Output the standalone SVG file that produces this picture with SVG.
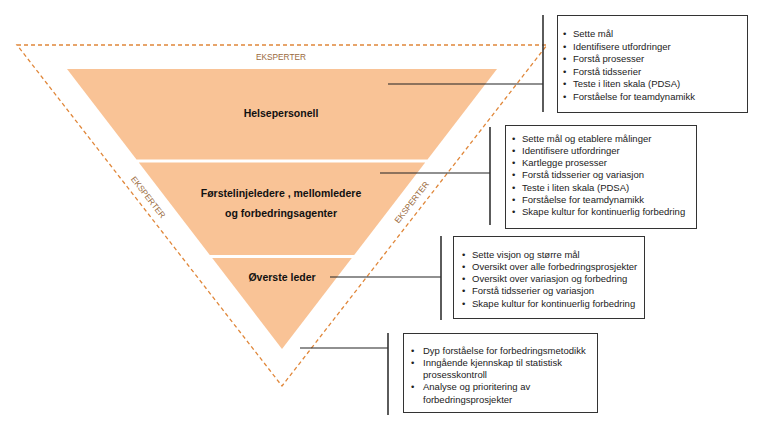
<svg xmlns="http://www.w3.org/2000/svg" width="768" height="432" viewBox="0 0 768 432">
<style>
.band{fill:#F9C396;}
.dash{fill:none;stroke:#E0873A;stroke-width:1.3;stroke-dasharray:4 3;}
.eks{font-family:"Liberation Sans",Arial,sans-serif;font-size:8.3px;fill:#9A6A3C;text-anchor:middle;}
.lbl{font-family:"Liberation Sans",Arial,sans-serif;font-size:10.5px;font-weight:bold;fill:#111;text-anchor:middle;}
.box{fill:#fff;stroke:#333;stroke-width:1;}
.txt{font-family:"Liberation Sans",Arial,sans-serif;font-size:9.5px;fill:#222;}
.con{fill:none;stroke:#222;stroke-width:1.2;}
.brk{fill:none;stroke:#333;stroke-width:1.6;}
</style>
<rect width="768" height="432" fill="#fff"/>
<g id="outer">
<polygon class="dash" points="17,45 547,45 282,386"/>
<text class="eks" x="281" y="60">EKSPERTER</text>
<text class="eks" transform="translate(146,199) rotate(52)">EKSPERTER</text>
<text class="eks" transform="translate(414,204) rotate(-52)">EKSPERTER</text>
</g>
<g id="helsepersonell">
<polygon class="band" points="67,69 497,69 427.5,159.5 136.5,159.5"/>
<text class="lbl" x="281" y="117">Helsepersonell</text>
</g>
<g id="forstelinje">
<polygon class="band" points="138.8,162.5 425.2,162.5 354.2,255 209.8,255"/>
<text class="lbl" x="281" y="197">Førstelinjeledere , mellomledere</text>
<text class="lbl" x="281" y="217">og forbedringsagenter</text>
</g>
<g id="overste">
<polygon class="band" points="212.2,258 351.8,258 282,349"/>
<text class="lbl" x="282" y="281">Øverste leder</text>
</g>
<g id="connectors">
<line class="con" x1="388" y1="84" x2="543" y2="84"/>
<line class="brk" x1="543" y1="15" x2="543" y2="112"/>
<line class="con" x1="380" y1="173" x2="490" y2="173"/>
<line class="brk" x1="490" y1="127" x2="490" y2="225"/>
<line class="con" x1="330" y1="277" x2="441" y2="277"/>
<line class="brk" x1="441" y1="236" x2="441" y2="320"/>
<line class="con" x1="300" y1="348" x2="388" y2="348"/>
<line class="brk" x1="388" y1="333" x2="388" y2="415"/>
</g>
<g id="box1">
<rect class="box" x="557.5" y="15.5" width="190" height="97"/>
<g class="txt">
<text x="563" y="37">•</text><text x="573" y="37">Sette mål</text>
<text x="563" y="49.6">•</text><text x="573" y="49.6">Identifisere utfordringer</text>
<text x="563" y="62.2">•</text><text x="573" y="62.2">Forstå prosesser</text>
<text x="563" y="74.8">•</text><text x="573" y="74.8">Forstå tidsserier</text>
<text x="563" y="87.4">•</text><text x="573" y="87.4">Teste i liten skala (PDSA)</text>
<text x="563" y="100">•</text><text x="573" y="100">Forståelse for teamdynamikk</text>
</g>
</g>
<g id="box2">
<rect class="box" x="505.5" y="125.5" width="191" height="103"/>
<g class="txt">
<text x="512" y="141.5">•</text><text x="522" y="141.5">Sette mål og etablere målinger</text>
<text x="512" y="153.8">•</text><text x="522" y="153.8">Identifisere utfordringer</text>
<text x="512" y="166.1">•</text><text x="522" y="166.1">Kartlegge prosesser</text>
<text x="512" y="178.4">•</text><text x="522" y="178.4">Forstå tidsserier og variasjon</text>
<text x="512" y="190.7">•</text><text x="522" y="190.7">Teste i liten skala (PDSA)</text>
<text x="512" y="203">•</text><text x="522" y="203">Forståelse for teamdynamikk</text>
<text x="512" y="215.3">•</text><text x="522" y="215.3">Skape kultur for kontinuerlig forbedring</text>
</g>
</g>
<g id="box3">
<rect class="box" x="453.5" y="236.5" width="191" height="82"/>
<g class="txt">
<text x="462" y="257.5">•</text><text x="472" y="257.5">Sette visjon og større mål</text>
<text x="462" y="269.8">•</text><text x="472" y="269.8">Oversikt over alle forbedringsprosjekter</text>
<text x="462" y="282.1">•</text><text x="472" y="282.1">Oversikt over variasjon og forbedring</text>
<text x="462" y="294.4">•</text><text x="472" y="294.4">Forstå tidsserier og variasjon</text>
<text x="462" y="306.7">•</text><text x="472" y="306.7">Skape kultur for kontinuerlig forbedring</text>
</g>
</g>
<g id="box4">
<rect class="box" x="403.5" y="333.5" width="194" height="79"/>
<g class="txt">
<text x="411" y="353.5">•</text><text x="423" y="353.5">Dyp forståelse for forbedringsmetodikk</text>
<text x="411" y="365.8">•</text><text x="423" y="365.8">Inngående kjennskap til statistisk</text>
<text x="423" y="378.1">prosesskontroll</text>
<text x="411" y="390.4">•</text><text x="423" y="390.4">Analyse og prioritering av</text>
<text x="423" y="402.7">forbedringsprosjekter</text>
</g>
</g>
</svg>
